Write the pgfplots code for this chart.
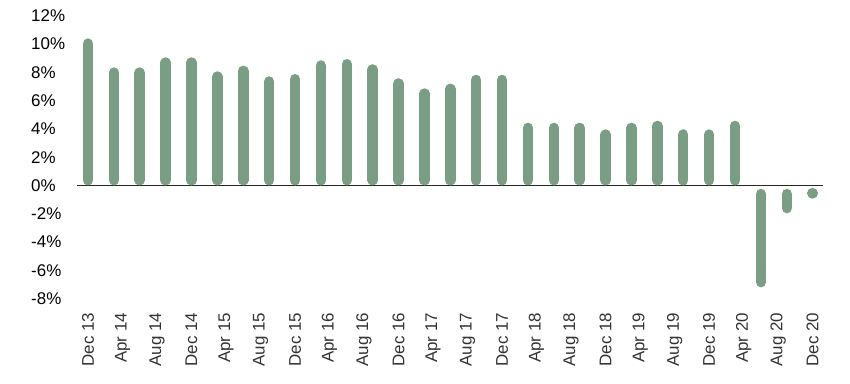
\documentclass[border=0pt]{standalone}
\usepackage{pgfplots}
\pgfplotsset{compat=1.18}
\usepackage{fontspec}
\setmainfont{Liberation Sans}
\definecolor{barc}{HTML}{7A9E83}
\definecolor{labc}{HTML}{333333}
\begin{document}
\begin{tikzpicture}[x=1bp,y=1bp]
\begin{axis}[
  scale only axis,
  width=746bp, height=283bp,
  xmin=-1.27, xmax=85.2,
  ymin=-8, ymax=12,
  axis line style={draw=none},
  major tick length=0pt,
  ytick={-8,-6,...,12},
  yticklabel={\pgfmathprintnumber{\tick}\%},
  /pgf/number format/assume math mode=true,
  yticklabel style={font=\fontsize{17}{19}\selectfont, anchor=west, inner sep=0pt, xshift=-46bp, text=black},
  xtick={0,4,...,84},
  xticklabels={Dec 13,Apr 14,Aug 14,Dec 14,Apr 15,Aug 15,Dec 15,Apr 16,Aug 16,Dec 16,Apr 17,Aug 17,Dec 17,Apr 18,Aug 18,Dec 18,Apr 19,Aug 19,Dec 19,Apr 20,Aug 20,Dec 20},
  xticklabel style={font=\fontsize{17}{19}\selectfont, rotate=90, anchor=east, inner sep=0pt, xshift=-14bp, text=labc},
  clip=false,
]
\draw[black!85, line width=1.2bp] (axis cs:-1.27,0) -- (axis cs:85.2,0);
\addplot[barc, line width=10.5bp, line cap=round, unbounded coords=jump, mark=none] coordinates {
(0,0.37) (0,10.03) (0,nan)
(3,0.37) (3,7.98) (3,nan)
(6,0.37) (6,7.98) (6,nan)
(9,0.37) (9,8.69) (9,nan)
(12,0.37) (12,8.69) (12,nan)
(15,0.37) (15,7.70) (15,nan)
(18,0.37) (18,8.10) (18,nan)
(21,0.37) (21,7.35) (21,nan)
(24,0.37) (24,7.51) (24,nan)
(27,0.37) (27,8.48) (27,nan)
(30,0.37) (30,8.57) (30,nan)
(33,0.37) (33,8.20) (33,nan)
(36,0.37) (36,7.21) (36,nan)
(39,0.37) (39,6.50) (39,nan)
(42,0.37) (42,6.83) (42,nan)
(45,0.37) (45,7.46) (45,nan)
(48,0.37) (48,7.46) (48,nan)
(51,0.37) (51,4.07) (51,nan)
(54,0.37) (54,4.07) (54,nan)
(57,0.37) (57,4.07) (57,nan)
(60,0.37) (60,3.60) (60,nan)
(63,0.37) (63,4.07) (63,nan)
(66,0.37) (66,4.21) (66,nan)
(69,0.37) (69,3.60) (69,nan)
(72,0.37) (72,3.60) (72,nan)
(75,0.37) (75,4.21) (75,nan)
(78,-0.60) (78,-6.83) (78,nan)
(81,-0.60) (81,-1.60) (81,nan)
(84,-0.54) (84,-0.56)
};
\end{axis}
\path ([xshift=-77bp,yshift=-85.3bp]current axis.south west) rectangle ([xshift=27bp,yshift=15.7bp]current axis.north east);
\end{tikzpicture}
\end{document}
